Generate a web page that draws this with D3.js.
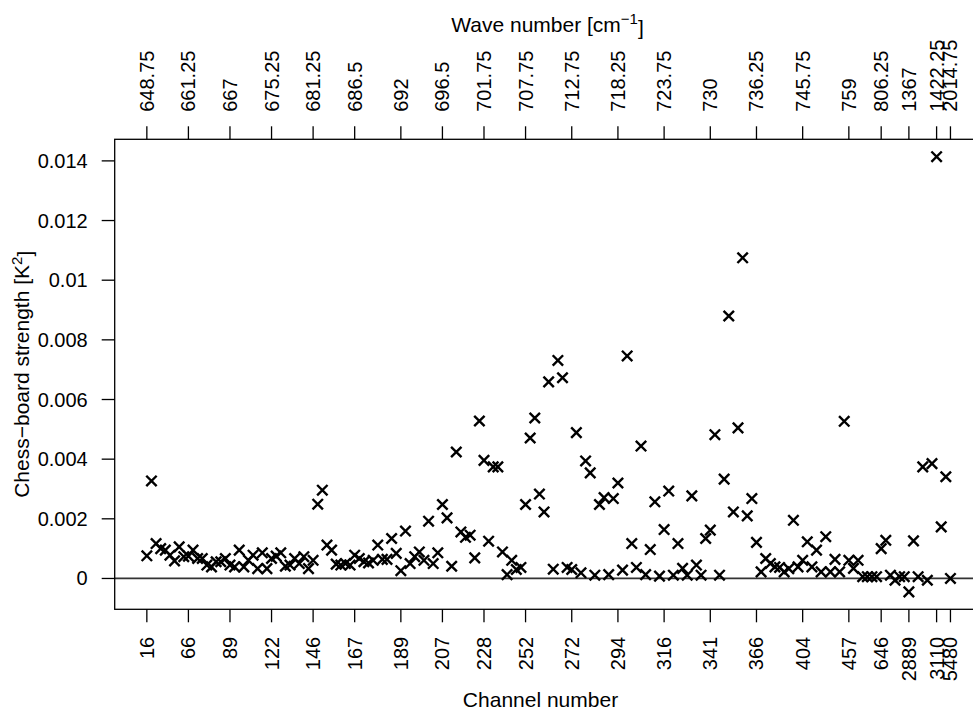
<!DOCTYPE html>
<html>
<head>
<meta charset="utf-8">
<script src="https://cdn.jsdelivr.net/npm/d3@7"></script>
<style>
  html, body { margin: 0; padding: 0; background: #fff; }
  svg { display: block; font-family: "Liberation Sans", Arial, Helvetica, sans-serif; }
</style>
</head>
<body>
<svg id="chart" width="973" height="710"></svg>
<script>
// chess-board strength per selected channel, in channel order
const strength = [
  0.00076, 0.00327, 0.00117, 0.00100, 0.00095, 0.00078, 0.00059, 0.00106, 0.00073, 0.00075,
  0.00095, 0.00067, 0.00067, 0.00045, 0.00039, 0.00056, 0.00056, 0.00067, 0.00045, 0.00039,
  0.00095, 0.00039, 0.00061, 0.00078, 0.00033, 0.00086, 0.00033, 0.00067, 0.00075, 0.00086,
  0.00041, 0.00045, 0.00067, 0.00050, 0.00073, 0.00033, 0.00061, 0.00249, 0.00296, 0.00112,
  0.00095, 0.00048, 0.00045, 0.00050, 0.00045, 0.00078, 0.00067, 0.00056, 0.00052, 0.00061,
  0.00112, 0.00064, 0.00064, 0.00134, 0.00084, 0.00026, 0.00159, 0.00050, 0.00073, 0.00089,
  0.00061, 0.00192, 0.00050, 0.00086, 0.00248, 0.00203, 0.00041, 0.00424, 0.00156, 0.00138,
  0.00145, 0.00069, 0.00528, 0.00396, 0.00125, 0.00374, 0.00374, 0.00089, 0.00013, 0.00061,
  0.00030, 0.00037, 0.00248, 0.00471, 0.00538, 0.00283, 0.00223, 0.00659, 0.00031, 0.00731,
  0.00673, 0.00037, 0.00030, 0.00489, 0.00019, 0.00394, 0.00354, 0.00011, 0.00248, 0.00271,
  0.00013, 0.00268, 0.00320, 0.00028, 0.00746, 0.00117, 0.00037, 0.00444, 0.00013, 0.00097,
  0.00257, 0.00008, 0.00164, 0.00293, 0.00011, 0.00117, 0.00034, 0.00011, 0.00277, 0.00045,
  0.00011, 0.00134, 0.00162, 0.00482, 0.00011, 0.00333, 0.00880, 0.00223, 0.00505, 0.01075,
  0.00210, 0.00268, 0.00121, 0.00022, 0.00067, 0.00050, 0.00039, 0.00037, 0.00022, 0.00033,
  0.00195, 0.00039, 0.00061, 0.00123, 0.00039, 0.00095, 0.00022, 0.00140, 0.00022, 0.00064,
  0.00022, 0.00527, 0.00061, 0.00034, 0.00061, 0.00006, 0.00006, 0.00006, 0.00006, 0.00100,
  0.00128, 0.00011, -0.00006, 0.00006, 0.00006, -0.00045, 0.00126, 0.00006, 0.00374, -0.00006,
  0.00385, 0.01414, 0.00173, 0.00341, 0.00000
];

// labelled points (1-based position in the sequence)
const tickIndex = [1, 10, 19, 28, 37, 46, 56, 65, 74, 83, 93, 103, 113, 123, 133, 143, 153, 160, 166, 172, 175];
const channelLabels = ["16", "66", "89", "122", "146", "167", "189", "207", "228", "252", "272",
  "294", "316", "341", "366", "404", "457", "646", "2889", "3110", "5480"];
const waveLabels = ["648.75", "661.25", "667", "675.25", "681.25", "686.5", "692", "696.5", "701.75",
  "707.75", "712.75", "718.25", "723.75", "730", "736.25", "745.75", "759", "806.25", "1367",
  "1422.25", "2014.75"];

const yTicks = [0, 0.002, 0.004, 0.006, 0.008, 0.01, 0.012, 0.014];
const yTickLabels = ["0", "0.002", "0.004", "0.006", "0.008", "0.01", "0.012", "0.014"];

const svg = d3.select("#chart"),
  margin = { top: 139.3, left: 114.7 },
  plotWidth = 867.9,
  plotHeight = 470;

const n = strength.length;
const pts = strength.map((v, i) => ({ idx: i + 1, v }));

// R style 4% extension of the data range
const xPad = 0.04 * (n - 1);
const x = d3.scaleLinear()
  .domain([1 - xPad, n + xPad])
  .range([margin.left, margin.left + plotWidth]);

const [yMin, yMax] = d3.extent(strength);
const yPad = 0.04 * (yMax - yMin);
const y = d3.scaleLinear()
  .domain([yMin - yPad, yMax + yPad])
  .range([margin.top + plotHeight, margin.top]);

const tickLen = 13;
const fontSize = 20;

// zero line
svg.append("line")
  .attr("x1", margin.left).attr("x2", margin.left + plotWidth)
  .attr("y1", y(0)).attr("y2", y(0))
  .attr("stroke", "#333").attr("stroke-width", 1.7);

// points as crosses (pch = 4)
const s = 5.2;
const marks = svg.append("g")
  .attr("stroke", "#000")
  .attr("stroke-width", 2.4)
  .attr("fill", "none");

marks.selectAll("path")
  .data(pts)
  .join("path")
  .attr("d", (d) => {
    const cx = x(d.idx), cy = y(d.v);
    return `M${cx - s},${cy - s}L${cx + s},${cy + s}M${cx - s},${cy + s}L${cx + s},${cy - s}`;
  });

// box
svg.append("rect")
  .attr("x", margin.left).attr("y", margin.top)
  .attr("width", plotWidth).attr("height", plotHeight)
  .attr("fill", "none").attr("stroke", "#000").attr("stroke-width", 1.3);

const bottom = margin.top + plotHeight;

// bottom axis: channel numbers
const bAxis = svg.append("g");
bAxis.selectAll("line")
  .data(tickIndex)
  .join("line")
  .attr("x1", (d) => x(d)).attr("x2", (d) => x(d))
  .attr("y1", bottom).attr("y2", bottom + tickLen)
  .attr("stroke", "#000").attr("stroke-width", 1.3);
bAxis.selectAll("text")
  .data(tickIndex)
  .join("text")
  .attr("transform", (d) => `translate(${x(d)},${bottom + 27.5}) rotate(-90)`)
  .attr("dy", "0.35em")
  .attr("text-anchor", "end")
  .style("font-size", fontSize + "px")
  .text((d, i) => channelLabels[i]);

// top axis: wave numbers
const tAxis = svg.append("g");
tAxis.selectAll("line")
  .data(tickIndex)
  .join("line")
  .attr("x1", (d) => x(d)).attr("x2", (d) => x(d))
  .attr("y1", margin.top).attr("y2", margin.top - tickLen)
  .attr("stroke", "#000").attr("stroke-width", 1.3);
tAxis.selectAll("text")
  .data(tickIndex)
  .join("text")
  .attr("transform", (d) => `translate(${x(d)},${margin.top - 27.5}) rotate(-90)`)
  .attr("dy", "0.35em")
  .attr("text-anchor", "start")
  .style("font-size", fontSize + "px")
  .text((d, i) => waveLabels[i]);

// left axis
const lAxis = svg.append("g");
lAxis.selectAll("line")
  .data(yTicks)
  .join("line")
  .attr("x1", margin.left).attr("x2", margin.left - tickLen)
  .attr("y1", (d) => y(d)).attr("y2", (d) => y(d))
  .attr("stroke", "#000").attr("stroke-width", 1.3);
lAxis.selectAll("text")
  .data(yTicks)
  .join("text")
  .attr("x", margin.left - 27)
  .attr("y", (d) => y(d))
  .attr("dy", "0.35em")
  .attr("text-anchor", "end")
  .style("font-size", fontSize + "px")
  .text((d, i) => yTickLabels[i]);

// titles
svg.append("text")
  .attr("x", 540.5).attr("y", 707)
  .attr("text-anchor", "middle")
  .style("font-size", "21px")
  .text("Channel number");

const topTitle = svg.append("text")
  .attr("x", 547.5).attr("y", 31.5)
  .attr("text-anchor", "middle")
  .style("font-size", "21px");
topTitle.append("tspan").text("Wave number [cm");
topTitle.append("tspan").attr("dy", "-0.5em").style("font-size", "15px").text("\u22121");
topTitle.append("tspan").attr("dy", "0.5em").text("]");

const yTitle = svg.append("text")
  .attr("transform", `translate(29,${margin.top + plotHeight / 2}) rotate(-90)`)
  .attr("text-anchor", "middle")
  .style("font-size", "21px");
yTitle.append("tspan").text("Chess\u2212board strength [K");
yTitle.append("tspan").attr("dy", "-0.5em").style("font-size", "15px").text("2");
yTitle.append("tspan").attr("dy", "0.5em").text("]");
</script>
</body>
</html>
